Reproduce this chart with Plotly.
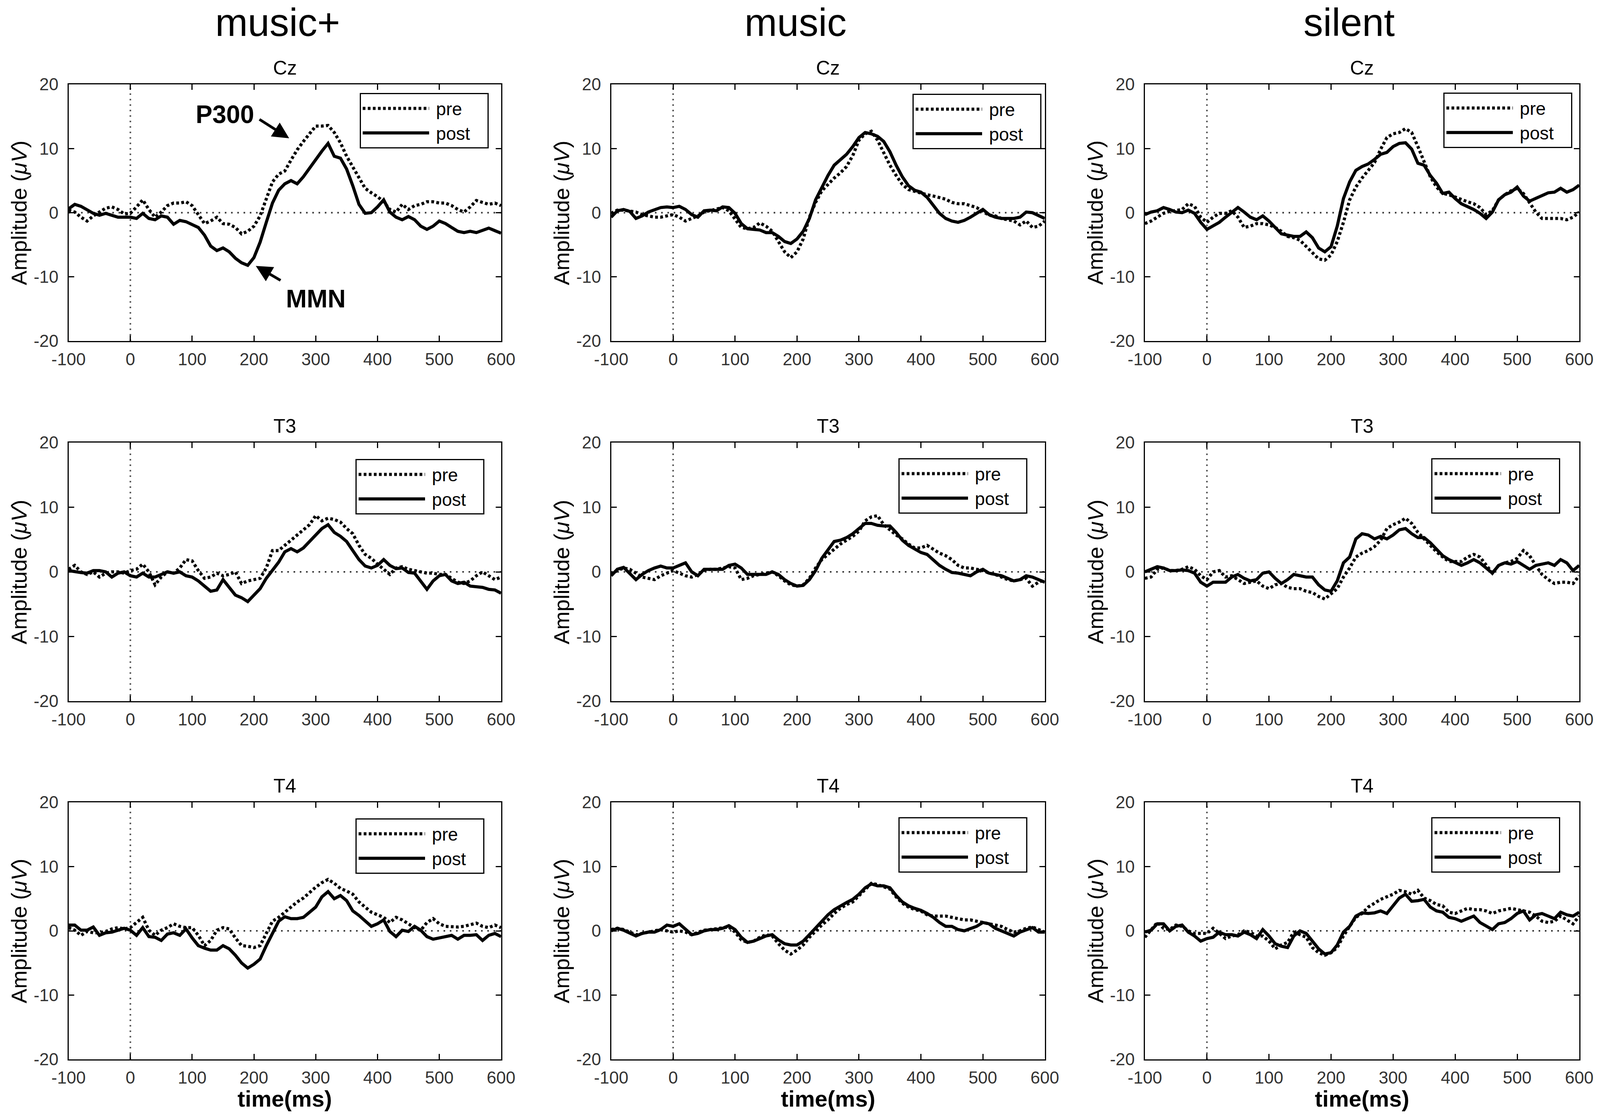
import plotly.graph_objects as go

time_ms = list(range(-100, 601, 10))
conditions = ["music+", "music", "silent"]
channels = ["Cz", "T3", "T4"]
x_ticks = [-100, 0, 100, 200, 300, 400, 500, 600]
y_ticks = [-20, -10, 0, 10, 20]

# Cz
cz_mplus_pre = [0.4, 0.1, -0.7, -1.3, -0.5, 0.1, 0.7, 0.9, 0.5, -0.2,
                -0.1, 0.9, 2.0, 0.5, -0.7, 0.1, 1.1, 1.5, 1.5, 1.7,
                1.1, -0.3, -1.7, -1.3, -0.7, -1.7, -1.8, -2.3, -3.3, -2.9,
                -2.1, -0.5, 2.1, 4.8, 6.0, 6.5, 8.2, 9.8, 11.1, 12.3,
                13.5, 13.5, 13.6, 12.5, 10.9, 8.8, 7.2, 5.4, 3.8, 3.1,
                2.5, 1.7, 0.5, 0.1, 1.3, 0.5, 1.1, 1.3, 1.7, 1.7,
                1.5, 1.5, 1.1, 0.5, 0.1, 0.9, 1.9, 1.6, 1.3, 1.5,
                1.1]
cz_mplus_post = [0.6, 1.3, 1.0, 0.4, -0.1, -0.4, -0.1, -0.4, -0.7, -0.7,
                 -0.7, -0.9, -0.1, -0.9, -1.1, -0.5, -0.7, -1.8, -1.2, -1.4,
                 -1.9, -2.3, -3.5, -5.2, -5.9, -5.5, -6.1, -7.1, -7.8, -8.2,
                 -7.0, -4.6, -1.5, 1.5, 3.5, 4.5, 5.0, 4.5, 5.6, 7.0,
                 8.2, 9.6, 10.8, 8.8, 8.5, 6.8, 4.2, 1.3, -0.1, 0.0,
                 0.9, 2.0, 0.1, -0.7, -1.1, -0.6, -1.1, -2.1, -2.6, -2.1,
                 -1.3, -1.7, -2.3, -2.9, -3.1, -2.9, -3.1, -2.7, -2.4, -2.8,
                 -3.2]
cz_music_pre = [-0.1, 0.4, 0.4, 0.3, 0.1, -0.3, -0.5, -0.7, -0.7, -0.5,
                -0.3, -0.7, -1.3, -0.9, -0.5, 0.1, 0.3, 0.5, 0.8, 0.3,
                -1.1, -2.3, -2.5, -2.3, -1.6, -2.1, -2.9, -4.5, -6.1, -7.0,
                -6.1, -4.1, -0.7, 1.6, 3.4, 4.4, 5.4, 6.2, 7.2, 8.9,
                11.3, 12.3, 12.7, 11.3, 9.3, 7.4, 5.8, 4.4, 3.6, 3.3,
                3.0, 2.8, 2.6, 2.3, 2.1, 1.6, 1.4, 1.4, 1.1, 0.8,
                0.2, -0.4, -0.5, -0.9, -1.1, -1.3, -1.9, -1.3, -2.3, -2.1,
                -1.3]
cz_music_post = [-0.7, 0.3, 0.5, 0.2, -0.9, -0.5, 0.1, 0.4, 0.8, 0.9,
                 0.8, 1.0, 0.5, -0.3, -0.7, 0.3, 0.4, 0.3, 0.9, 0.8,
                 -0.1, -1.7, -2.5, -2.6, -2.7, -3.1, -3.1, -3.7, -4.5, -4.8,
                 -4.1, -2.9, -0.9, 2.0, 4.0, 5.8, 7.4, 8.2, 9.1, 10.3,
                 11.7, 12.5, 12.3, 11.9, 11.1, 9.5, 7.4, 5.6, 4.2, 3.5,
                 3.2, 2.4, 1.2, -0.1, -0.9, -1.3, -1.5, -1.2, -0.7, -0.1,
                 0.5, -0.3, -0.7, -0.9, -0.9, -0.9, -0.7, 0.1, 0.0, -0.5,
                 -0.9]
cz_silent_pre = [-1.7, -1.3, -0.7, -0.1, 0.2, 0.4, 0.5, 1.4, 1.0, -0.7,
                 -1.5, -0.7, -0.1, -0.1, 0.3, -0.7, -2.3, -2.1, -1.7, -1.7,
                 -1.9, -2.3, -2.9, -3.7, -3.9, -4.3, -5.3, -6.3, -7.2, -7.4,
                 -6.6, -4.5, -1.5, 2.0, 4.0, 5.4, 6.6, 7.8, 9.9, 11.7,
                 12.3, 12.5, 13.1, 12.5, 10.3, 7.8, 5.6, 4.0, 3.0, 2.8,
                 2.4, 2.0, 1.7, 1.4, 0.8, -0.3, 0.3, 2.0, 2.8, 3.4,
                 3.8, 3.0, 1.6, 0.1, -0.9, -0.9, -1.0, -0.9, -1.1, -0.7,
                 0.1]
cz_silent_post = [-0.3, 0.1, 0.3, 0.8, 0.5, 0.1, 0.0, 0.4, -0.1, -1.5,
                  -2.6, -2.0, -1.5, -0.7, 0.1, 0.8, 0.1, -0.7, -1.1, -0.5,
                  -1.3, -2.3, -3.3, -3.5, -3.7, -3.7, -3.0, -3.9, -5.5, -6.1,
                  -5.3, -2.1, 2.2, 4.8, 6.6, 7.2, 7.6, 8.3, 9.1, 9.4,
                  10.3, 10.8, 10.9, 9.9, 7.7, 7.4, 5.8, 4.6, 3.0, 3.2,
                  2.2, 1.4, 1.0, 0.5, -0.1, -0.9, 0.1, 2.0, 2.8, 3.2,
                  4.0, 2.6, 1.8, 2.2, 2.7, 3.1, 3.2, 3.8, 3.2, 3.6,
                  4.3]

# T3
t3_mplus_pre = [0.4, 1.0, 0.0, -0.4, 0.0, -0.8, -0.2, 0.0, 0.0, -0.2,
                0.2, 0.4, 1.2, 0.0, -2.0, -0.8, 0.0, -0.2, 0.6, 1.9,
                1.7, 0.2, -1.0, -0.8, -0.2, -0.6, -0.4, 0.0, -1.8, -1.4,
                -1.2, -1.0, 0.6, 3.3, 3.3, 4.1, 4.9, 5.7, 6.5, 7.3,
                8.7, 7.9, 8.3, 8.1, 7.7, 6.7, 5.9, 4.1, 2.7, 2.1,
                1.2, 0.4, -0.4, 0.6, 0.8, 0.4, 0.2, 0.0, -0.2, -0.2,
                -0.4, -0.4, -1.0, -1.6, -1.8, -1.4, -0.6, 0.0, -0.6, -1.2,
                -0.8]
t3_mplus_post = [0.2, 0.0, -0.1, -0.2, 0.2, 0.2, 0.0, -0.8, -0.2, 0.0,
                 -0.6, -0.8, -0.2, -0.8, -0.8, -0.4, 0.0, -0.2, 0.0, -0.6,
                 -0.8, -1.4, -2.2, -3.0, -2.8, -1.2, -2.4, -3.6, -4.0, -4.6,
                 -3.6, -2.6, -1.0, 0.2, 1.5, 3.1, 3.6, 3.1, 3.7, 4.7,
                 5.7, 6.7, 7.3, 6.1, 5.5, 4.7, 3.3, 1.9, 0.9, 0.6,
                 1.0, 1.9, 1.0, 0.5, 0.6, -0.1, -0.2, -1.4, -2.7, -1.4,
                 -0.6, -0.4, -1.4, -1.8, -1.6, -2.2, -2.3, -2.4, -2.7, -2.8,
                 -3.3]
t3_music_pre = [-0.4, 0.2, 0.6, 0.4, -0.2, -0.8, -1.0, -1.2, -0.6, -0.2,
                0.2, -0.2, -0.6, -0.8, -0.4, 0.2, 0.4, 0.4, 0.6, 0.8,
                0.6, -1.2, -1.0, -0.6, -0.4, -0.2, 0.0, -0.6, -1.4, -2.0,
                -2.2, -2.0, -1.0, 0.6, 1.9, 2.7, 3.5, 4.3, 4.9, 5.5,
                6.3, 7.9, 8.5, 8.7, 7.3, 6.5, 5.7, 5.1, 4.3, 3.7,
                3.7, 4.1, 3.5, 2.9, 2.5, 1.9, 1.0, 0.6, 0.6, 0.4,
                0.2, -0.2, -0.4, -0.8, -1.2, -1.4, -1.2, -1.0, -2.2, -1.6,
                -1.2]
t3_music_post = [-0.6, 0.4, 0.7, -0.2, -1.2, -0.4, 0.2, 0.6, 0.9, 0.6,
                 0.6, 1.0, 1.4, 0.0, -0.6, 0.4, 0.4, 0.4, 0.4, 1.0,
                 1.2, 0.6, -0.4, -0.4, -0.4, -0.4, 0.0, -0.4, -1.2, -1.8,
                 -2.2, -2.1, -1.2, 0.2, 2.1, 3.5, 4.7, 4.9, 5.3, 5.9,
                 6.7, 7.5, 7.5, 7.2, 7.1, 7.1, 6.1, 4.9, 4.1, 3.5,
                 3.0, 2.7, 1.9, 1.0, 0.4, -0.1, -0.2, -0.4, -0.6, 0.0,
                 0.4, -0.2, -0.4, -0.6, -1.0, -1.4, -1.2, -0.6, -0.8, -1.2,
                 -1.6]
t3_silent_pre = [-1.0, -0.8, 0.4, 0.6, 0.2, 0.2, 0.4, 0.8, 0.4, -0.6,
                 -1.2, 0.0, 0.2, -0.8, -0.6, -1.2, -1.8, -1.6, -1.4, -2.2,
                 -2.6, -2.0, -1.8, -2.4, -2.6, -2.6, -3.0, -3.2, -3.8, -4.2,
                 -3.4, -2.6, -0.8, 0.6, 2.3, 2.9, 3.3, 3.9, 4.9, 6.7,
                 7.3, 7.7, 8.3, 7.5, 6.1, 5.1, 4.1, 3.1, 2.3, 1.6,
                 1.6, 1.6, 2.3, 2.7, 2.3, 1.0, -0.2, 1.0, 1.4, 1.6,
                 2.1, 3.3, 2.5, 1.0, -0.4, -1.2, -1.8, -1.6, -1.6, -1.8,
                 -0.6]
t3_silent_post = [0.0, 0.4, 0.8, 0.6, 0.2, 0.2, 0.3, 0.2, -0.2, -1.6,
                  -2.2, -1.6, -1.6, -1.6, -0.8, -0.4, -1.0, -1.4, -1.2, -0.2,
                  0.0, -1.0, -1.8, -1.2, -0.4, -0.6, -0.8, -0.8, -2.0, -2.8,
                  -3.0, -1.4, 1.4, 2.3, 5.1, 5.9, 5.7, 5.1, 5.5, 5.1,
                  5.7, 6.5, 6.7, 5.9, 5.3, 5.3, 4.5, 3.5, 2.5, 1.9,
                  1.4, 1.0, 1.4, 1.9, 1.4, 0.6, -0.2, 1.0, 1.4, 1.2,
                  1.6, 1.0, 0.4, 1.0, 1.2, 1.4, 1.0, 1.9, 1.4, 0.2,
                  1.0]

# T4
t4_mplus_pre = [0.5, 0.1, -0.7, -0.1, -0.3, -0.3, -0.1, 0.3, 0.5, 0.3,
                0.5, 1.3, 2.1, 0.1, -0.7, 0.1, 0.5, 1.1, 0.7, 0.5,
                0.5, -0.7, -2.3, -1.5, 0.1, 0.5, 0.3, -1.1, -2.3, -2.4,
                -2.6, -2.3, -0.5, 1.5, 2.1, 2.9, 3.7, 4.5, 5.1, 6.0,
                6.8, 7.5, 8.0, 7.4, 6.6, 6.2, 5.7, 4.5, 3.7, 2.9,
                2.5, 2.1, 1.3, 2.1, 1.7, 1.1, 0.5, 0.1, 1.3, 1.9,
                1.1, 0.7, 0.6, 0.6, 0.7, 0.9, 1.2, 0.7, 0.5, 0.9,
                0.5]
t4_mplus_post = [0.9, 0.9, 0.1, 0.1, 0.6, -0.7, -0.3, -0.2, 0.1, 0.4,
                 0.1, -0.7, 0.5, -0.9, -1.0, -1.5, -0.5, -0.3, -0.7, 0.3,
                 -1.1, -2.3, -2.7, -3.0, -3.0, -2.3, -2.8, -3.8, -5.0, -5.8,
                 -5.2, -4.4, -2.3, -0.5, 1.5, 2.2, 1.9, 1.9, 2.1, 2.9,
                 3.7, 5.3, 6.1, 5.0, 5.5, 4.7, 3.1, 2.4, 1.5, 0.7,
                 1.1, 1.7, -0.1, -0.9, 0.1, -0.1, 0.7, 0.1, -0.9, -1.3,
                 -1.1, -0.9, -0.7, -1.3, -0.7, -0.7, -0.6, -1.5, -0.7, -0.4,
                 -0.9]
t4_music_pre = [0.2, 0.4, 0.2, -0.2, -0.6, -0.4, -0.2, 0.0, 0.2, 0.0,
                -0.2, 0.0, -0.2, -0.6, -0.2, 0.1, 0.2, 0.3, 0.4, 0.6,
                -0.2, -1.4, -1.8, -1.6, -1.0, -0.6, -0.8, -2.0, -3.0, -3.6,
                -3.0, -2.2, -1.0, 0.0, 0.9, 1.7, 2.7, 3.5, 4.1, 4.5,
                5.5, 6.5, 7.4, 7.2, 6.8, 6.5, 5.3, 4.3, 3.7, 3.3,
                3.1, 2.5, 2.3, 2.3, 2.3, 2.1, 1.9, 1.7, 1.7, 1.5,
                1.3, 1.1, 0.9, 0.7, 0.2, -0.2, 0.0, 0.4, 0.6, 0.2,
                -0.2]
t4_music_post = [0.0, 0.4, 0.1, -0.4, -0.8, -0.4, -0.2, -0.2, 0.2, 0.9,
                 0.7, 1.1, 0.2, -0.6, -0.4, 0.0, 0.2, 0.2, 0.4, 0.8,
                 0.2, -1.0, -1.8, -1.6, -1.2, -0.8, -0.6, -1.4, -2.0, -2.2,
                 -2.2, -1.6, -0.6, 0.4, 1.5, 2.5, 3.3, 3.9, 4.4, 4.9,
                 5.7, 6.7, 7.3, 7.0, 7.0, 6.7, 5.5, 4.5, 3.9, 3.5,
                 3.2, 2.7, 2.1, 1.3, 0.7, 0.7, 0.2, 0.0, 0.3, 0.7,
                 1.3, 1.1, 0.4, 0.0, -0.4, -0.8, -0.2, 0.2, 0.5, -0.2,
                 -0.2]
t4_silent_pre = [-1.0, 0.2, 1.3, 0.4, 0.2, 0.9, 0.7, 0.0, -0.4, -0.4,
                 -0.4, 0.4, -0.4, -1.2, -0.8, -0.6, 0.0, -0.2, -0.8, -0.8,
                 -1.6, -2.8, -2.2, -1.8, -0.2, -0.6, -1.0, -2.6, -3.4, -3.8,
                 -3.4, -2.6, -0.8, 0.7, 2.1, 2.7, 3.7, 4.3, 4.9, 5.3,
                 5.7, 6.3, 6.1, 5.7, 6.3, 5.1, 4.7, 4.1, 3.9, 2.9,
                 2.7, 3.1, 3.5, 3.3, 3.3, 3.1, 2.7, 3.1, 3.3, 3.5,
                 3.3, 3.1, 2.9, 2.3, 1.5, 1.3, 1.5, 2.3, 1.7, 1.1,
                 2.3]
t4_silent_post = [-0.2, 0.1, 1.1, 1.1, 0.0, 0.7, 0.9, -0.2, -0.8, -1.6,
                  -1.2, -1.0, -0.2, -0.6, -0.6, -0.8, -0.2, -0.6, -1.2, 0.2,
                  -0.8, -2.0, -2.4, -2.6, -0.8, 0.0, -0.4, -1.6, -2.8, -3.6,
                  -3.4, -2.2, -0.2, 0.7, 2.3, 2.8, 2.7, 2.8, 3.1, 2.7,
                  3.9, 5.1, 5.7, 4.6, 4.7, 4.9, 3.7, 3.1, 2.9, 2.1,
                  1.9, 1.5, 1.9, 2.3, 1.3, 0.7, 0.2, 1.1, 1.3, 1.9,
                  2.7, 3.1, 1.7, 2.5, 2.7, 2.3, 1.9, 2.9, 2.5, 2.3,
                  2.9]

erp = {
    ("Cz", "music+"): (cz_mplus_pre, cz_mplus_post),
    ("Cz", "music"): (cz_music_pre, cz_music_post),
    ("Cz", "silent"): (cz_silent_pre, cz_silent_post),
    ("T3", "music+"): (t3_mplus_pre, t3_mplus_post),
    ("T3", "music"): (t3_music_pre, t3_music_post),
    ("T3", "silent"): (t3_silent_pre, t3_silent_post),
    ("T4", "music+"): (t4_mplus_pre, t4_mplus_post),
    ("T4", "music"): (t4_music_pre, t4_music_post),
    ("T4", "silent"): (t4_silent_pre, t4_silent_post),
}

# page geometry, in reference pixels (converted to paper fractions below)
W, H = 4317, 2857
col_left = [185, 1649, 3089]
col_right = [1352, 2819, 4261]
row_top = [216, 1133, 2054]
row_bottom = [873, 1795, 2712]
leg_right = [[1318, 2810, 4242], [1307, 2772, 4210], [1307, 2772, 4210]]
leg_top = [[238, 240, 237], [1175, 1173, 1173], [2095, 2092, 2092]]
title_x = [749, 2146, 3640]

SANS = "Liberation Sans, Arial, sans-serif"
NBSP = "\u00a0"

def px(x):
    return x / W

def py(y):
    return 1 - y / H

fig = go.Figure()
layout = dict(width=W, height=H, margin=dict(l=0, r=0, t=0, b=0, autoexpand=False),
              plot_bgcolor="white", paper_bgcolor="white", showlegend=True)
annotations = []
shapes = []

for r, ch in enumerate(channels):
    for c, cond in enumerate(conditions):
        n = r * 3 + c + 1
        sfx = "" if n == 1 else str(n)
        leg = "legend" if n == 1 else "legend%d" % n
        pre, post = erp[(ch, cond)]
        fig.add_trace(go.Scatter(x=time_ms, y=pre, mode="lines", name=NBSP + "pre",
                                 line=dict(color="black", width=8, dash="7px,6px"),
                                 xaxis="x" + sfx, yaxis="y" + sfx, legend=leg,
                                 hoverinfo="skip"))
        fig.add_trace(go.Scatter(x=time_ms, y=post, mode="lines",
                                 name=NBSP + "post" + NBSP * 3,
                                 line=dict(color="black", width=8),
                                 xaxis="x" + sfx, yaxis="y" + sfx, legend=leg,
                                 hoverinfo="skip"))
        axis_common = dict(showline=True, linecolor="black", linewidth=3, mirror="ticks",
                           ticks="inside", ticklen=14, tickwidth=3, tickcolor="black",
                           showgrid=False, zeroline=False,
                           tickfont=dict(family=SANS, size=44, color="#333"))
        layout["xaxis" + sfx] = dict(axis_common, domain=[px(col_left[c]), px(col_right[c])],
                                     range=[-100, 600], tickmode="array", tickvals=x_ticks,
                                     ticktext=[str(v) for v in x_ticks],
                                     anchor="y" + sfx, ticklabelstandoff=6)
        layout["yaxis" + sfx] = dict(axis_common, domain=[py(row_bottom[r]), py(row_top[r])],
                                     range=[-20, 20], tickmode="array", tickvals=y_ticks,
                                     ticktext=[str(v) for v in y_ticks],
                                     anchor="x" + sfx, ticklabelstandoff=14)
        layout[leg] = dict(x=px(leg_right[r][c]), y=py(leg_top[r][c]),
                           xanchor="right", yanchor="top", bgcolor="white",
                           bordercolor="black", borderwidth=3, itemwidth=170,
                           font=dict(family=SANS, size=46, color="black"))
        # dotted reference lines at 0 ms and 0 uV
        shapes.append(dict(type="line", xref="x" + sfx, yref="y" + sfx, x0=-100, x1=600,
                           y0=0, y1=0, layer="below",
                           line=dict(color="#333", width=4, dash="4px,12px")))
        shapes.append(dict(type="line", xref="x" + sfx, yref="y" + sfx, x0=0, x1=0,
                           y0=-20, y1=20, layer="below",
                           line=dict(color="#555", width=4, dash="4px,10px")))
        annotations.append(dict(text=ch, x=px((col_left[c] + col_right[c]) / 2),
                                y=py(row_top[r] - 42), xref="paper", yref="paper",
                                showarrow=False, xanchor="center", yanchor="middle",
                                font=dict(family=SANS, size=50, color="black")))
        annotations.append(dict(text="Amplitude (<i>\u03bcV</i>)", textangle=-90,
                                x=px(col_left[c] - 134), y=py((row_top[r] + row_bottom[r]) / 2),
                                xref="paper", yref="paper", showarrow=False,
                                xanchor="center", yanchor="middle",
                                font=dict(family=SANS, size=56, color="black")))
        if r == 2:
            annotations.append(dict(text="<b>time(ms)</b>", x=px((col_left[c] + col_right[c]) / 2),
                                    y=py(2812), xref="paper", yref="paper", showarrow=False,
                                    xanchor="center", yanchor="middle",
                                    font=dict(family=SANS, size=58, color="black")))

# condition headers, hung from the top edge
for c, cond in enumerate(conditions):
    annotations.append(dict(text=cond, x=px(title_x[c]), y=1, xref="paper", yref="paper",
                            showarrow=False, xanchor="center", yanchor="top", borderpad=0,
                            font=dict(family=SANS, size=100, color="black")))

# P300 / MMN labels on music+ Cz
annotations += [
    dict(text="<b>P300</b>", x=153, y=15.3, xref="x", yref="y", showarrow=False,
         font=dict(family=SANS, size=64, color="black")),
    dict(text="", x=257, y=11.6, ax=208, ay=14.6, xref="x", yref="y", axref="x", ayref="y",
         showarrow=True, arrowhead=2, arrowsize=1.2, arrowwidth=7, arrowcolor="black"),
    dict(text="<b>MMN</b>", x=300, y=-13.4, xref="x", yref="y", showarrow=False,
         font=dict(family=SANS, size=64, color="black")),
    dict(text="", x=203, y=-8.3, ax=244, ay=-10.6, xref="x", yref="y", axref="x", ayref="y",
         showarrow=True, arrowhead=2, arrowsize=1.2, arrowwidth=7, arrowcolor="black"),
]

layout["annotations"] = annotations
layout["shapes"] = shapes
fig.update_layout(**layout)

# fit the figure to the browser viewport (layout is given in paper fractions)
fit_js = """
var gd = document.getElementById('{plot_id}');
document.body.style.margin = '0';
document.body.style.overflow = 'hidden';
Plotly.relayout(gd, {width: window.innerWidth, height: window.innerHeight});
"""
fig.write_html("out.html", post_script=fit_js, config={"displayModeBar": False})
